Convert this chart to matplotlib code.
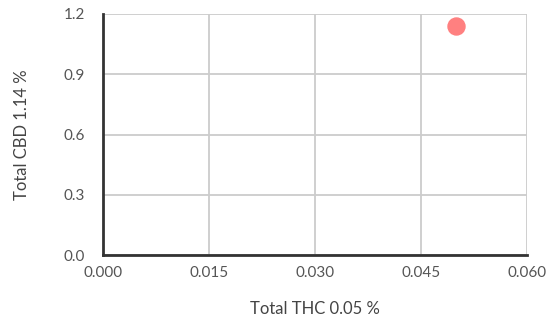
import matplotlib
matplotlib.use('Agg')
from matplotlib import pyplot as plt

plt.rcParams['font.family'] = ['Lato', 'DejaVu Sans']

thc = [0.05]
cbd = [1.14]
x_ticks = [0.0, 0.015, 0.030, 0.045, 0.060]
y_ticks = [0.0, 0.3, 0.6, 0.9, 1.2]

fig = plt.figure(figsize=(5.54, 3.18), dpi=100)
ax = fig.add_axes([0.186, 0.198, 0.765, 0.758])

ax.scatter(thc, cbd, s=150, color='#ff8080', zorder=3, clip_on=False)

ax.set_xlim(0, 0.06)
ax.set_ylim(0, 1.2)
ax.set_xticks(x_ticks)
ax.set_yticks(y_ticks)
ax.set_xticklabels(['%.3f' % v for v in x_ticks])
ax.set_yticklabels(['%.1f' % v for v in y_ticks])

ax.grid(True, color='#cccccc', linewidth=1.3, zorder=0)
ax.set_axisbelow(True)
for side in ['top', 'right']:
    ax.spines[side].set_visible(False)
for side in ['left', 'bottom']:
    ax.spines[side].set_color('#333333')
    ax.spines[side].set_linewidth(2)
    ax.spines[side].set_zorder(2)

ax.tick_params(axis='both', length=0, labelsize=11, labelcolor='#555555')
ax.tick_params(axis='y', pad=13)
ax.tick_params(axis='x', pad=8)

ax.set_xlabel('Total THC 0.05 %', fontsize=12, color='#444444', labelpad=15)
ax.set_ylabel('Total CBD 1.14 %', fontsize=12, color='#444444', labelpad=24)

fig.savefig('out.png', dpi=100)
